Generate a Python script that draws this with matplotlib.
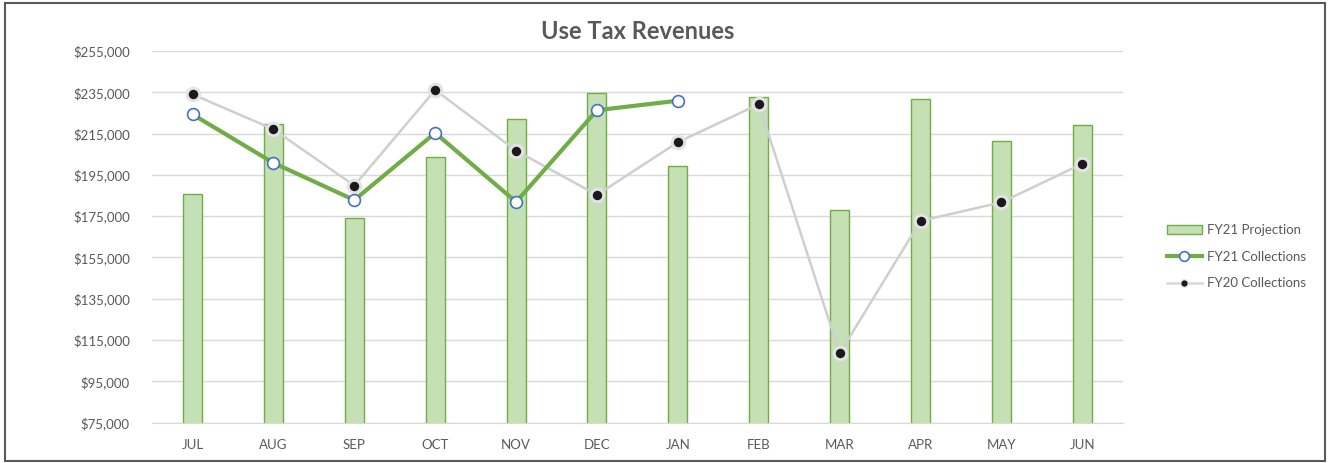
import numpy as np
import matplotlib.pyplot as plt
from matplotlib.patches import Rectangle
from matplotlib.lines import Line2D
from matplotlib.ticker import FuncFormatter

plt.rcParams['font.family'] = ['Lato', 'DejaVu Sans']

months = ['JUL', 'AUG', 'SEP', 'OCT', 'NOV', 'DEC', 'JAN', 'FEB', 'MAR', 'APR', 'MAY', 'JUN']
fy21_projection = [185600, 219700, 174300, 203500, 222100, 234700, 199500, 232900, 177900, 231800, 211300, 219000]
fy21_collections = [224300, 200800, 182800, 215300, 181900, 226300, 230900]
fy20_collections = [234000, 217100, 189800, 236100, 206700, 185300, 210800, 229200, 108600, 172700, 181700, 200400]

txt = '#595959'
grid = '#D9D9D9'

fig = plt.figure(figsize=(13.28, 4.63), dpi=100)
ax = fig.add_axes([0.1145, 0.087, 0.731, 0.803])

x = np.arange(len(months))
ax.bar(x, fy21_projection, width=0.235, color='#C5E0B4', edgecolor='#70AD47', linewidth=1.0, zorder=2)
ax.plot(x, fy20_collections, '-', color='#CFCFCF', lw=1.8, zorder=3,
        marker='o', markersize=9, markerfacecolor='#1a1a1a', markeredgecolor='#E3E3E3', markeredgewidth=2.2)
ax.plot(x[:len(fy21_collections)], fy21_collections, '-', color='#70AD47', lw=3, zorder=4,
        marker='o', markersize=8.5, markerfacecolor='white', markeredgecolor='#4472C4', markeredgewidth=1.2)

ax.set_xlim(-0.5, len(months) - 0.5)
ax.set_ylim(75000, 255000)
ax.set_yticks(np.arange(75000, 255001, 20000))
ax.yaxis.set_major_formatter(FuncFormatter(lambda v, p: '${:,.0f}'.format(v)))
ax.set_xticks(x)
ax.set_xticklabels(months)
ax.tick_params(length=0, labelsize=9.5, colors=txt)
ax.tick_params(axis='y', pad=16)
ax.tick_params(axis='x', pad=12)
ax.grid(axis='y', color=grid, lw=1, zorder=0)
ax.set_axisbelow(True)
for s in ['top', 'right', 'left']:
    ax.spines[s].set_visible(False)
ax.spines['bottom'].set_color(grid)

fig.text(0.48, 0.932, 'Use Tax Revenues', ha='center', va='center', fontsize=17, fontweight='bold', color=txt)

handles = [
    Rectangle((0, 0), 1, 1, facecolor='#C5E0B4', edgecolor='#70AD47', lw=1),
    Line2D([], [], color='#70AD47', lw=3, marker='o', markersize=7, markerfacecolor='white',
           markeredgecolor='#4472C4', markeredgewidth=1.2),
    Line2D([], [], color='#D9D9D9', lw=1.8, marker='o', markersize=5.5, markerfacecolor='#1a1a1a',
           markeredgecolor='#E6E6E6'),
]
fig.legend(handles, ['FY21 Projection', 'FY21 Collections', 'FY20 Collections'],
           loc='center left', bbox_to_anchor=(0.87, 0.445), frameon=False,
           fontsize=9.5, labelcolor=txt, handlelength=2.6, handletextpad=0.4, labelspacing=1.1)

fig.patches.append(Rectangle((0.004, 0.005), 0.994, 0.989, transform=fig.transFigure,
                             fill=False, edgecolor='#595959', lw=1.5))

fig.savefig('out.png', dpi=100)
